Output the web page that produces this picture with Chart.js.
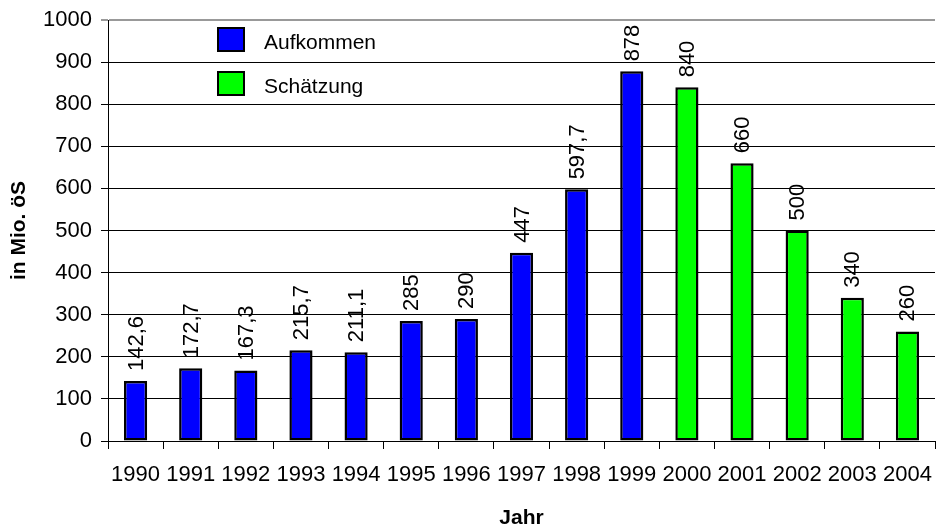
<!DOCTYPE html>
<html>
<head>
<meta charset="utf-8">
<script src="https://cdn.jsdelivr.net/npm/chart.js@4"></script>
<style>
html,body{margin:0;padding:0;background:#fff;}
#wrap{width:936px;height:531px;position:relative;}
</style>
</head>
<body>
<div id="wrap"><canvas id="c" width="936" height="531"></canvas></div>
<script>
const years = ['1990','1991','1992','1993','1994','1995','1996','1997','1998','1999','2000','2001','2002','2003','2004'];
const aufkommen = [142.6, 172.7, 167.3, 215.7, 211.1, 285, 290, 447, 597.7, 878, null, null, null, null, null];
const schaetzung = [null, null, null, null, null, null, null, null, null, null, 840, 660, 500, 340, 260];
const seriesNames = ['Aufkommen', 'Schätzung'];
const seriesColors = ['#0000FF', '#00FF00'];
const yTicks = [0, 100, 200, 300, 400, 500, 600, 700, 800, 900, 1000];
const yTitle = 'in Mio. öS';
const xTitle = 'Jahr';

const FONT = "'Liberation Sans', Arial, sans-serif";

const labelPlugin = {
  id: 'valueLabels',
  afterDatasetsDraw(chart) {
    const ctx = chart.ctx;
    ctx.save();
    ctx.font = '22px ' + FONT;
    ctx.fillStyle = '#000';
    ctx.textAlign = 'left';
    ctx.textBaseline = 'middle';
    chart.data.datasets.forEach((ds, di) => {
      const meta = chart.getDatasetMeta(di);
      meta.data.forEach((bar, i) => {
        const v = ds.data[i];
        if (v === null || v === undefined) return;
        const txt = String(v).replace('.', ',');
        ctx.save();
        ctx.translate(bar.x + 1, bar.y - 10);
        ctx.rotate(-Math.PI / 2);
        ctx.fillText(txt, 0, 0);
        ctx.restore();
      });
    });
    ctx.restore();
  }
};

const legendPlugin = {
  id: 'innerLegend',
  afterDraw(chart) {
    const ctx = chart.ctx;
    const a = chart.chartArea;
    ctx.save();
    ctx.font = '21px ' + FONT;
    ctx.textBaseline = 'alphabetic';
    ctx.textAlign = 'left';
    seriesNames.forEach((name, i) => {
      const x = a.left + 110;
      const y = a.top + 8 + i * 44;
      ctx.fillStyle = seriesColors[i];
      ctx.fillRect(x, y, 26, 23);
      ctx.strokeStyle = '#000';
      ctx.lineWidth = 2;
      ctx.strokeRect(x, y, 26, 23);
      ctx.fillStyle = '#000';
      ctx.fillText(name, x + 46, y + 21);
    });
    ctx.restore();
  }
};

new Chart(document.getElementById('c'), {
  type: 'bar',
  data: {
    labels: years,
    datasets: [
      { label: seriesNames[0], data: aufkommen, backgroundColor: seriesColors[0], borderColor: '#000', borderWidth: 2.5, borderSkipped: false, barPercentage: 0.42, categoryPercentage: 1 },
      { label: seriesNames[1], data: schaetzung, backgroundColor: seriesColors[1], borderColor: '#000', borderWidth: 2.5, borderSkipped: false, barPercentage: 0.42, categoryPercentage: 1 }
    ]
  },
  options: {
    responsive: false,
    animation: false,
    layout: { padding: { top: 20, right: 1, left: 0, bottom: 0 } },
    plugins: { legend: { display: false }, tooltip: { enabled: false } },
    scales: {
      x: {
        stacked: true,
        grid: { offset: true, drawOnChartArea: false, tickLength: 8, color: '#000', lineWidth: 1 },
        border: { color: '#000', width: 1 },
        ticks: { color: '#000', font: { family: FONT, size: 22 }, padding: 13, maxRotation: 0, autoSkip: false },
        title: { display: true, text: xTitle, color: '#000', font: { family: FONT, size: 21, weight: 'bold' }, padding: { top: 0, bottom: 0 } },
        afterFit(s) { s.height = 90; s.paddingLeft = 0; s.paddingRight = 0; }
      },
      y: {
        stacked: true,
        min: 0, max: 1000,
        afterBuildTicks(s) { s.ticks = yTicks.map(v => ({ value: v })); },
        grid: {
          tickLength: 7,
          color: c => (c.tick && c.tick.value === 1000) ? '#999' : '#000',
          lineWidth: c => (c.tick && c.tick.value === 1000) ? 2 : 1
        },
        border: { color: '#000', width: 1 },
        ticks: { color: '#000', font: { family: FONT, size: 22 }, padding: 9, callback: v => String(v) },
        title: { display: true, text: yTitle, color: '#000', font: { family: FONT, size: 21, weight: 'bold' }, padding: { top: 7, bottom: 0 } },
        afterFit(s) { s.width = 108; s.paddingTop = 0; s.paddingBottom = 0; }
      }
    }
  },
  plugins: [labelPlugin, legendPlugin]
});
</script>
</body>
</html>
